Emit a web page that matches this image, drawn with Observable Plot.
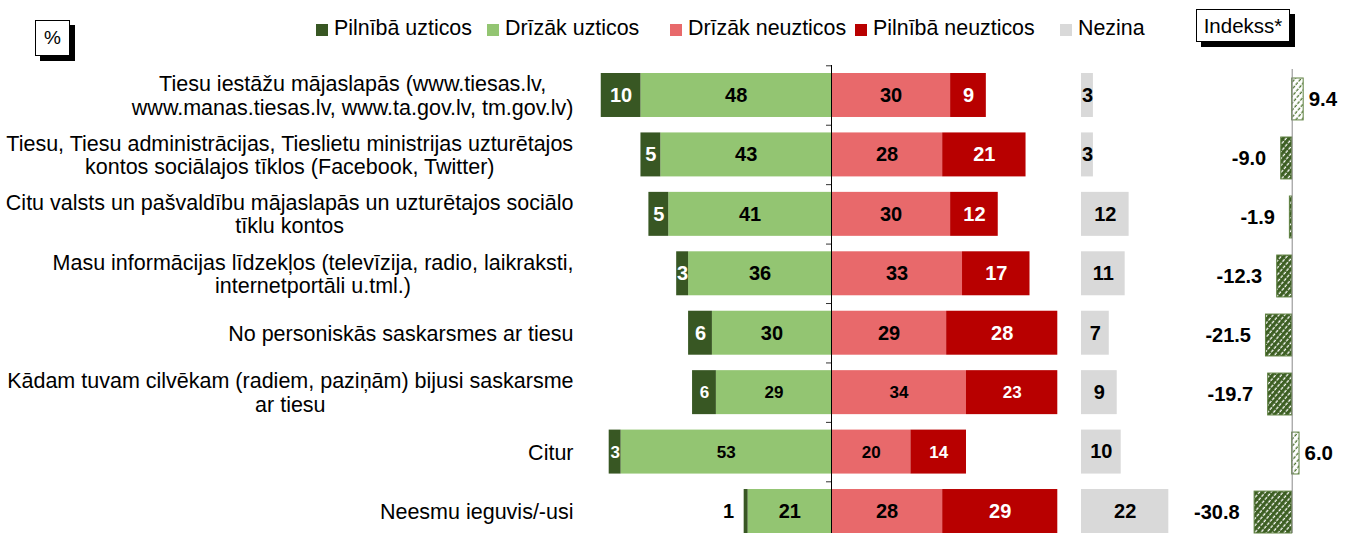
<!DOCTYPE html>
<html>
<head>
<meta charset="utf-8">
<script src="https://cdn.jsdelivr.net/npm/d3@7"></script>
<script src="https://cdn.jsdelivr.net/npm/@observablehq/plot@0.6"></script>
<style>
  html, body { margin: 0; padding: 0; background: #fff; }
  body { width: 1350px; height: 534px; overflow: hidden; font-family: "Liberation Sans", Arial, sans-serif; }
  #header { position: relative; height: 60px; width: 1350px; }
  .box { position: absolute; background: #fff; border: 1px solid #000; box-shadow: 5px 5px 0 #000; box-sizing: border-box; text-align: center; color: #000; }
  .item { position: absolute; top: 16px; height: 24px; line-height: 24px; font-size: 21.4px; color: #000; white-space: nowrap; }
  .sw { display: inline-block; width: 12px; height: 12px; margin-right: 6px; vertical-align: -1px; }
  #row { display: flex; flex-direction: row; align-items: flex-start; }
  #row svg { display: block; overflow: visible; }
</style>
</head>
<body>
<div id="header"></div>
<div id="row"></div>
<script>
// ---- data ----
const categories = [
  "Tiesu iestāžu mājaslapās (www.tiesas.lv,\nwww.manas.tiesas.lv, www.ta.gov.lv, tm.gov.lv)",
  "Tiesu, Tiesu administrācijas, Tieslietu ministrijas uzturētajos\nkontos sociālajos tīklos (Facebook, Twitter)",
  "Citu valsts un pašvaldību mājaslapās un uzturētajos sociālo\ntīklu kontos",
  "Masu informācijas līdzekļos (televīzija, radio, laikraksti,\ninternetportāli u.tml.)",
  "No personiskās saskarsmes ar tiesu",
  "Kādam tuvam cilvēkam (radiem, paziņām) bijusi saskarsme\nar tiesu",
  "Citur",
  "Neesmu ieguvis/-usi"
];
const fullyTrust      = [10, 5, 5, 3, 6, 6, 3, 1];
const ratherTrust     = [48, 43, 41, 36, 30, 29, 53, 21];
const ratherDistrust  = [30, 28, 30, 33, 29, 34, 20, 28];
const fullyDistrust   = [9, 21, 12, 17, 28, 23, 14, 29];
const dontKnow        = [3, 3, 12, 11, 7, 9, 10, 22];
const indexValues     = [9.4, -9.0, -1.9, -12.3, -21.5, -19.7, 6.0, -30.8];
const seriesNames = ["Pilnībā uzticos", "Drīzāk uzticos", "Drīzāk neuzticos", "Pilnībā neuzticos", "Nezina"];
const seriesColors = ["#385723", "#93C572", "#E8696B", "#B80000", "#D9D9D9"];
const percentLabel = "%";
const indexTitle = "Indekss*";

const FONT = '"Liberation Sans", Arial, sans-serif';
const smallRows = new Set([categories[5], categories[6]]);

// ---- header (legend + boxes) ----
const header = document.getElementById("header");
const pbox = document.createElement("div");
pbox.className = "box";
Object.assign(pbox.style, {left: "35px", top: "20px", width: "35px", height: "36px", lineHeight: "34px", fontSize: "19px"});
pbox.textContent = percentLabel;
header.appendChild(pbox);
const ibox = document.createElement("div");
ibox.className = "box";
Object.assign(ibox.style, {left: "1196px", top: "9px", width: "94px", height: "33px", lineHeight: "31px", fontSize: "20.5px"});
ibox.textContent = indexTitle;
header.appendChild(ibox);
const legendLeft = [316, 487, 670, 855, 1060];
seriesNames.forEach((name, i) => {
  const it = document.createElement("div");
  it.className = "item";
  it.style.left = legendLeft[i] + "px";
  const sw = document.createElement("span");
  sw.className = "sw";
  sw.style.background = seriesColors[i];
  it.appendChild(sw);
  it.appendChild(document.createTextNode(name));
  header.appendChild(it);
});

// ---- tables ----
const stacked = [];
categories.forEach((cat, i) => {
  stacked.push({cat, series: seriesNames[1], value: -ratherTrust[i], label: ratherTrust[i], dark: false});
  stacked.push({cat, series: seriesNames[0], value: -fullyTrust[i], label: fullyTrust[i], dark: true});
  stacked.push({cat, series: seriesNames[2], value: ratherDistrust[i], label: ratherDistrust[i], dark: false});
  stacked.push({cat, series: seriesNames[3], value: fullyDistrust[i], label: fullyDistrust[i], dark: true});
});
const outside = categories.map((cat, i) => ({cat, label: fullyTrust[i], left: -(fullyTrust[i] + ratherTrust[i])})).filter(d => d.label < 2);
const nez = categories.map((cat, i) => ({cat, value: dontKnow[i]}));
const idx = categories.map((cat, i) => ({cat, value: indexValues[i]}));

// measure label widths for centered multi-line labels
const ctx = document.createElement("canvas").getContext("2d");
const LABEL_SIZE = 21.5;
ctx.font = `${LABEL_SIZE}px ${FONT}`;
const blockWidth = cat => d3.max(cat.split("\n"), l => ctx.measureText(l).width);

const H = 474;
const yMain = {domain: categories, paddingInner: 0.26, paddingOuter: 0, round: false, axis: null};
const labelSize = d => smallRows.has(d.cat) ? 17 : 20;

const main = Plot.plot({
  width: 1070, height: H,
  marginLeft: 600, marginRight: 0, marginTop: 13, marginBottom: 1,
  style: {fontFamily: FONT, background: "transparent", overflow: "visible"},
  x: {domain: [-58.19, 60.2], axis: null},
  y: yMain,
  color: {domain: seriesNames, range: seriesColors},
  marks: [
    Plot.barX(stacked, Plot.stackX({x: "value", y: "cat", fill: "series"})),
    Plot.text(stacked, Plot.stackX({x: "value", y: "cat", text: d => (!d.dark && d.label >= 2) ? String(d.label) : null,
      fill: "#000", fontWeight: "bold", fontSize: labelSize})),
    Plot.text(stacked, Plot.stackX({x: "value", y: "cat", text: d => (d.dark && d.label >= 2) ? String(d.label) : null,
      fill: "#fff", fontWeight: "bold", fontSize: labelSize})),
    Plot.text(outside, {x: "left", y: "cat", text: d => String(d.label), textAnchor: "end", dx: -10,
      fill: "#000", fontWeight: "bold", fontSize: 20}),
    Plot.ruleX([0], {stroke: "#000", strokeWidth: 1, insetTop: -8}),
    Plot.ruleY(categories, {y: d => d, x1: 0, x2: 0, insetLeft: -5, dy: -29.7, stroke: "#333", strokeWidth: 1}),
    ...categories.map(cat => Plot.text([cat], {
      y: d => d, text: d => d, frameAnchor: "left", textAnchor: "middle",
      dx: -27 - blockWidth(cat) / 2, lineHeight: 1.08, fontSize: LABEL_SIZE, fill: "#000"
    }))
  ]
});

const nezPlot = Plot.plot({
  width: 110, height: H,
  marginLeft: 11, marginRight: 0, marginTop: 13, marginBottom: 1,
  style: {fontFamily: FONT, background: "transparent", overflow: "visible"},
  x: {domain: [0, 24.94], axis: null},
  y: yMain,
  marks: [
    Plot.barX(nez, {x: "value", y: "cat", fill: seriesColors[4]}),
    Plot.text(nez, Plot.stackX({x: "value", y: "cat", text: d => String(d.value), fill: "#000", fontWeight: "bold", fontSize: 20}))
  ]
});

function patternDefs() {
  const ns = "http://www.w3.org/2000/svg";
  const defs = document.createElementNS(ns, "defs");
  const make = (id, bg, fg) => {
    const p = document.createElementNS(ns, "pattern");
    p.setAttribute("id", id);
    p.setAttribute("patternUnits", "userSpaceOnUse");
    p.setAttribute("width", "4.5");
    p.setAttribute("height", "4.5");
    p.setAttribute("patternTransform", "rotate(40)");
    const r = document.createElementNS(ns, "rect");
    r.setAttribute("width", "4.5"); r.setAttribute("height", "4.5"); r.setAttribute("fill", bg);
    const l = document.createElementNS(ns, "line");
    l.setAttribute("x1", "1.2"); l.setAttribute("x2", "1.2"); l.setAttribute("y1", "0"); l.setAttribute("y2", "4.5");
    l.setAttribute("stroke", fg); l.setAttribute("stroke-width", "1.3"); l.setAttribute("stroke-dasharray", "3.2 1.3");
    p.appendChild(r); p.appendChild(l);
    defs.appendChild(p);
  };
  make("hatchNeg", "#3C5E22", "#ffffff");
  make("hatchPos", "#ffffff", "#4E7330");
  return defs;
}

const idxPlot = Plot.plot({
  width: 170, height: H,
  marginLeft: 0, marginRight: 0, marginTop: 18, marginBottom: 1,
  style: {fontFamily: FONT, background: "transparent", overflow: "visible"},
  x: {domain: [-91.56, 47.79], axis: null},
  y: {domain: categories, paddingInner: 0.29, paddingOuter: 0, round: false, axis: null},
  marks: [
    patternDefs,
    Plot.barX(idx, {filter: d => d.value < 0, x: "value", y: "cat", fill: "url(#hatchNeg)", stroke: "#5E8040", strokeWidth: 1}),
    Plot.barX(idx, {filter: d => d.value >= 0, x: "value", y: "cat", fill: "url(#hatchPos)", stroke: "#5E8040", strokeWidth: 1}),
    Plot.ruleX([0], {stroke: "#888", strokeWidth: 1, insetTop: -9}),
    Plot.text(idx, {filter: d => d.value < 0, x: "value", y: "cat", text: d => d.value.toFixed(1), textAnchor: "end", dx: -15, fill: "#000", fontWeight: "bold", fontSize: 20}),
    Plot.text(idx, {filter: d => d.value >= 0, x: "value", y: "cat", text: d => d.value.toFixed(1), textAnchor: "start", dx: 5, fill: "#000", fontWeight: "bold", fontSize: 20.5})
  ]
});

const row = document.getElementById("row");
row.appendChild(main);
row.appendChild(nezPlot);
row.appendChild(idxPlot);
</script>
</body>
</html>
